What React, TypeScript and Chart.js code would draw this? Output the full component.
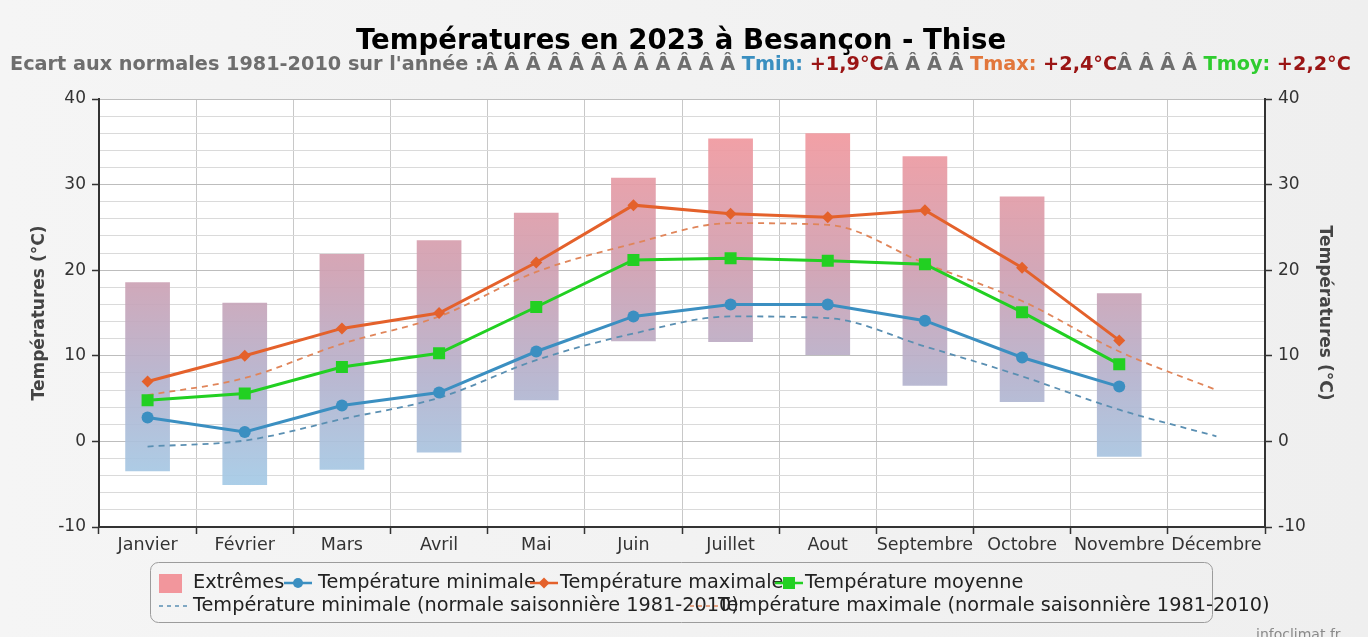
import React, { useEffect, useRef } from 'react';
import { Chart, registerables } from 'chart.js';

Chart.register(...registerables);

// ---------- data ----------
const months = ['Janvier', 'Février', 'Mars', 'Avril', 'Mai', 'Juin', 'Juillet', 'Aout', 'Septembre', 'Octobre', 'Novembre', 'Décembre'];
const tmin = [2.8, 1.1, 4.2, 5.7, 10.5, 14.6, 16.0, 16.0, 14.1, 9.8, 6.4, null];
const tmax = [7.0, 10.0, 13.2, 15.0, 20.9, 27.6, 26.6, 26.2, 27.0, 20.3, 11.8, null];
const tmoy = [4.8, 5.6, 8.7, 10.3, 15.7, 21.2, 21.4, 21.1, 20.7, 15.1, 9.0, null];
const extremeLow = [-3.5, -5.1, -3.3, -1.3, 4.8, 11.7, 11.6, 10.1, 6.5, 4.6, -1.8, null];
const extremeHigh = [18.6, 16.2, 21.9, 23.5, 26.7, 30.8, 35.4, 36.0, 33.3, 28.6, 17.3, null];
const normMin = [-0.6, 0.1, 2.6, 5.1, 9.5, 12.6, 14.6, 14.4, 11.1, 7.6, 3.7, 0.6];
const normMax = [5.4, 7.4, 11.4, 14.6, 19.8, 23.1, 25.5, 25.3, 20.8, 16.4, 10.5, 6.0];
const yTickValues = [-10, 0, 10, 20, 30, 40];

const titleText = 'Températures en 2023 à Besançon - Thise';
const axisTitle = 'Températures (°C)';
const legendLabels = {
  ext: 'Extrêmes',
  tmin: 'Température minimale',
  tmax: 'Température maximale',
  tmoy: 'Température moyenne',
  nmin: 'Température minimale (normale saisonnière 1981-2010)',
  nmax: 'Température maximale (normale saisonnière 1981-2010)',
};
const subtitleParts: [string, string][] = [
  ["Ecart aux normales 1981-2010 sur l'année :Â Â Â Â Â Â Â Â Â Â Â Â ", '#6e6e6e'],
  ['Tmin:', '#3a8fc0'],
  [' ', '#6e6e6e'],
  ['+1,9°C', '#9a1414'],
  ['Â Â Â Â ', '#6e6e6e'],
  ['Tmax:', '#e2773c'],
  [' ', '#6e6e6e'],
  ['+2,4°C', '#9a1414'],
  ['Â Â Â Â ', '#6e6e6e'],
  ['Tmoy:', '#2fcc2f'],
  [' ', '#6e6e6e'],
  ['+2,2°C', '#9a1414'],
];

// ---------- styles ----------
const FONT = "'DejaVu Sans', Verdana, sans-serif";
const C_MIN = '#3b8fc1';
const C_MAX = '#e4612b';
const C_MOY = '#22d022';
const C_NMIN = '#5a8fb2';
const C_NMAX = '#e0855a';

function barGradient(ctx: any) {
  const chart = ctx.chart;
  const area = chart.chartArea;
  if (!area) return 'rgba(220,150,170,0.8)';
  const y = chart.scales.y;
  const g = chart.ctx.createLinearGradient(0, y.getPixelForValue(36), 0, y.getPixelForValue(-5));
  g.addColorStop(0, 'rgba(241,152,158,0.92)');
  g.addColorStop(0.4, 'rgba(206,160,178,0.92)');
  g.addColorStop(0.7, 'rgba(180,178,205,0.92)');
  g.addColorStop(1, 'rgba(164,202,230,0.92)');
  return g;
}

const decorPlugin = {
  id: 'decor',
  beforeDraw(chart: any) {
    const { ctx, width, height, chartArea } = chart;
    ctx.save();
    const bg = ctx.createLinearGradient(0, 0, width, 0);
    bg.addColorStop(0, '#f5f5f5');
    bg.addColorStop(1, '#efefef');
    ctx.fillStyle = bg;
    ctx.fillRect(0, 0, width, height);
    ctx.fillStyle = '#ffffff';
    ctx.fillRect(chartArea.left, chartArea.top, chartArea.right - chartArea.left, chartArea.bottom - chartArea.top);
    ctx.restore();
  },
  afterDraw(chart: any) {
    const { ctx } = chart;
    ctx.save();
    // title
    ctx.font = `bold 27.6px ${FONT}`;
    ctx.fillStyle = '#000';
    ctx.textAlign = 'center';
    ctx.textBaseline = 'alphabetic';
    ctx.fillText(titleText, 681, 49);

    // subtitle (multi-coloured), fitted to the reference width
    ctx.textAlign = 'left';
    ctx.font = `bold 17px ${FONT}`;
    let total = 0;
    subtitleParts.forEach(([t]) => (total += ctx.measureText(t).width));
    const size = (17 * 1342) / total;
    ctx.font = `bold ${size}px ${FONT}`;
    let x = 10;
    subtitleParts.forEach(([t, c]) => {
      ctx.fillStyle = c;
      ctx.fillText(t, x, 70);
      x += ctx.measureText(t).width;
    });

    // legend
    const bx = 150.5, by = 562.5, bw = 1062, bh = 60;
    ctx.strokeStyle = '#9c9c9c';
    ctx.lineWidth = 1;
    ctx.beginPath();
    ctx.roundRect(bx, by, bw, bh, 8);
    ctx.stroke();

    ctx.font = `19.3px ${FONT}`;
    ctx.fillStyle = '#222';
    ctx.textBaseline = 'middle';
    const r1 = 583, r2 = 606;

    // Extrêmes
    ctx.fillStyle = '#f2969c';
    ctx.fillRect(159, r1 - 9, 23, 19);
    ctx.fillStyle = '#222';
    ctx.fillText(legendLabels.ext, 193, r1);

    const lineMarker = (x0: number, y0: number, color: string, style: string) => {
      ctx.strokeStyle = color;
      ctx.fillStyle = color;
      ctx.lineWidth = 2.5;
      ctx.setLineDash([]);
      ctx.beginPath();
      ctx.moveTo(x0, y0);
      ctx.lineTo(x0 + 28, y0);
      ctx.stroke();
      const cx = x0 + 14;
      ctx.beginPath();
      if (style === 'circle') {
        ctx.arc(cx, y0, 5, 0, Math.PI * 2);
      } else if (style === 'diamond') {
        ctx.moveTo(cx, y0 - 5.5);
        ctx.lineTo(cx + 5.5, y0);
        ctx.lineTo(cx, y0 + 5.5);
        ctx.lineTo(cx - 5.5, y0);
        ctx.closePath();
      } else {
        ctx.rect(cx - 6, y0 - 6, 12, 12);
      }
      ctx.fill();
    };
    lineMarker(284, r1, C_MIN, 'circle');
    ctx.fillStyle = '#222';
    ctx.fillText(legendLabels.tmin, 318, r1);
    lineMarker(530, r1, C_MAX, 'diamond');
    ctx.fillStyle = '#222';
    ctx.fillText(legendLabels.tmax, 560, r1);
    lineMarker(775, r1, C_MOY, 'square');
    ctx.fillStyle = '#222';
    ctx.fillText(legendLabels.tmoy, 805, r1);

    const dashMarker = (x0: number, y0: number, color: string) => {
      ctx.strokeStyle = color;
      ctx.lineWidth = 1.5;
      ctx.setLineDash([4, 4]);
      ctx.beginPath();
      ctx.moveTo(x0, y0);
      ctx.lineTo(x0 + 28, y0);
      ctx.stroke();
      ctx.setLineDash([]);
    };
    dashMarker(159, r2, C_NMIN);
    ctx.fillStyle = '#222';
    ctx.fillText(legendLabels.nmin, 193, r2);
    dashMarker(690, r2, C_NMAX);
    ctx.fillStyle = '#222';
    ctx.fillText(legendLabels.nmax, 718, r2);

    // watermark
    ctx.font = `14px ${FONT}`;
    ctx.fillStyle = '#8a8a8a';
    ctx.textBaseline = 'alphabetic';
    ctx.fillText('infoclimat.fr', 1256, 639);
    ctx.restore();
  },
};

const majorTick = (v: number) => yTickValues.includes(v);

export default function App() {
  const ref = useRef<HTMLCanvasElement | null>(null);

  useEffect(() => {
    document.body.style.margin = '0';
    document.body.style.overflow = 'hidden';
    Chart.defaults.font.family = FONT;
    const canvas = ref.current;
    if (!canvas) return;

    const yCommon = (position: 'left' | 'right', onArea: boolean, titlePad: number) => ({
      position,
      min: -10,
      max: 40,
      border: { color: '#333', width: 2 },
      grid: {
        drawOnChartArea: onArea,
        tickLength: 7,
        color: (c: any) => (c.tick && majorTick(c.tick.value) ? '#bdbdbd' : '#dadada'),
        tickColor: (c: any) => (c.tick && majorTick(c.tick.value) ? '#333' : 'rgba(0,0,0,0)'),
        tickWidth: 1.5,
      },
      ticks: {
        stepSize: 2,
        autoSkip: false,
        padding: 6,
        color: '#333',
        font: { size: 17 },
        callback: (v: any) => (majorTick(Number(v)) ? String(v) : ''),
      },
      title: {
        display: true,
        text: axisTitle,
        color: '#444',
        font: { size: 17, weight: 'bold' },
        padding: { top: titlePad, bottom: 0 },
      },
    });

    const chart = new Chart(canvas, {
      type: 'bar',
      data: {
        labels: months,
        datasets: [
          {
            type: 'line',
            label: legendLabels.tmin,
            data: tmin,
            borderColor: C_MIN,
            backgroundColor: C_MIN,
            borderWidth: 3,
            pointStyle: 'circle',
            pointRadius: 6,
            pointBorderWidth: 0,
            order: 1,
          },
          {
            type: 'line',
            label: legendLabels.tmax,
            data: tmax,
            borderColor: C_MAX,
            backgroundColor: C_MAX,
            borderWidth: 3,
            pointStyle: 'rectRot',
            pointRadius: 6,
            pointBorderWidth: 0,
            order: 2,
          },
          {
            type: 'line',
            label: legendLabels.tmoy,
            data: tmoy,
            borderColor: C_MOY,
            backgroundColor: C_MOY,
            borderWidth: 3,
            pointStyle: 'rect',
            pointRadius: 8.5,
            pointBorderWidth: 0,
            order: 0,
          },
          {
            type: 'line',
            label: legendLabels.nmin,
            data: normMin,
            borderColor: C_NMIN,
            borderWidth: 1.8,
            borderDash: [6, 5],
            pointRadius: 0,
            cubicInterpolationMode: 'monotone',
            order: 5,
          },
          {
            type: 'line',
            label: legendLabels.nmax,
            data: normMax,
            borderColor: C_NMAX,
            borderWidth: 1.8,
            borderDash: [6, 5],
            pointRadius: 0,
            cubicInterpolationMode: 'monotone',
            order: 6,
          },
          {
            type: 'bar',
            label: legendLabels.ext,
            data: extremeLow.map((lo, i) => (lo === null ? null : [lo, extremeHigh[i] as number])) as any,
            backgroundColor: barGradient,
            borderWidth: 0,
            barPercentage: 0.46,
            categoryPercentage: 1,
            order: 10,
          },
        ],
      },
      options: {
        animation: false,
        responsive: true,
        maintainAspectRatio: false,
        layout: { padding: { top: 99, bottom: 78, left: 0, right: 0 } },
        plugins: {
          legend: { display: false },
          tooltip: { enabled: false },
          title: { display: false },
        },
        scales: {
          x: {
            offset: true,
            border: { color: '#333', width: 2 },
            grid: { offset: true, color: '#c8c8c8', tickColor: '#333', tickLength: 7, tickWidth: 1.5 },
            ticks: {
              autoSkip: false,
              maxRotation: 0,
              minRotation: 0,
              padding: 1,
              color: '#333',
              font: { size: 17.5 },
            },
            afterFit: (s: any) => {
              s.height = 32;
            },
          },
          y: {
            ...yCommon('left', true, 29),
            afterFit: (s: any) => {
              s.width = 99;
            },
          },
          y2: {
            ...yCommon('right', false, 33),
            afterFit: (s: any) => {
              s.width = 103;
            },
          },
        } as any,
      },
      plugins: [decorPlugin],
    } as any);

    return () => chart.destroy();
  }, []);

  return (
    <div style={{ width: 1368, height: 637, position: 'relative' }}>
      <canvas ref={ref} />
    </div>
  );
}
